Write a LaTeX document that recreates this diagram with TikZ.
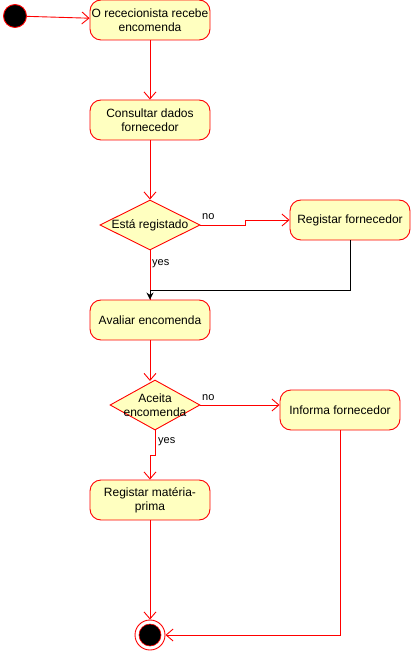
\documentclass[tikz,border=0pt]{standalone}
\usepackage{fontspec}
\setmainfont{Liberation Sans}
\usetikzlibrary{shapes.geometric,arrows.meta,calc}
\definecolor{actfill}{HTML}{FFFFC0}
\definecolor{umlred}{HTML}{FF0000}
\tikzset{
  act/.style={draw=umlred, fill=actfill, rounded corners=11pt, minimum width=120pt, minimum height=40pt, inner sep=0pt, align=center, font=\fontsize{12}{14}\selectfont, line width=0.9pt},
  dec/.style={draw=umlred, fill=actfill, shape=diamond, inner sep=0pt, line width=0.9pt},
  dectext/.style={align=center, font=\fontsize{12}{14}\selectfont, inner sep=0pt},
  rline/.style={draw=umlred, line width=0.9pt, -{Straight Barb[length=7pt,width=12pt]}},
  rplain/.style={draw=umlred, line width=0.9pt},
  bline/.style={draw=black, line width=0.9pt, -{Stealth[length=7pt,width=7pt]}},
  lbl/.style={font=\fontsize{11}{13}\selectfont, inner sep=0pt}
}
\begin{document}
\begin{tikzpicture}[x=1pt,y=-1pt]
\useasboundingbox (0,0) rectangle (411,652);
% start
\node[circle, draw=umlred, fill=black, minimum size=23pt, inner sep=0pt, line width=0.9pt] (start) at (15,16) {};
% activities
\node[act] (n1) at (150,20) {O rececionista recebe\\encomenda};
\node[act] (n2) at (150,120) {Consultar dados\\fornecedor};
\node[dec, minimum width=100pt, minimum height=50pt] (d1) at (150,225) {};
\node[dectext] at (d1) {Está registado};
\node[act] (reg) at (350,220) {Registar fornecedor};
\node[act] (n3) at (150,320) {Avaliar encomenda};
\node[dec, minimum width=90pt, minimum height=50pt] (d2) at (155,405) {};
\node[dectext] at (d2) {Aceita\\encomenda};
\node[act] (inf) at (340,410) {Informa fornecedor};
\node[act] (n4) at (150,500) {Registar matéria-\\prima};
% end
\node[circle, draw=umlred, fill=white, minimum size=30pt, inner sep=0pt, line width=0.9pt] (end) at (150,635) {};
\node[circle, draw=umlred, fill=black, minimum size=22pt, inner sep=0pt, line width=0.6pt] (endin) at (end) {};
\coordinate (m1) at (150,290);
% connectors
\draw[rline] (start) -- (n1);
\draw[rline] (n1) -- (n2);
\draw[rline] (n2) -- (d1);
\draw[rline] (d1.east) -- ++(45,0) |- (reg.west);
\node[lbl, anchor=south west] at (202,220) {no};
\draw[rplain] (d1.south) -- (n3.north);
\node[lbl, anchor=west] at (152,264) {yes};
\draw[bline] (reg.south) |- (m1) -- (n3.north);
\draw[rline] (n3.south) -- (150,381);
\draw[rline] (d2.east) -- (d2.east -| inf.west);
\node[lbl, anchor=south west] at (202,401) {no};
\draw[rline] (d2.south) -- ++(0,25) -| (n4.north);
\node[lbl, anchor=west] at (158,442) {yes};
\draw[rline] (n4.south) -- (end.north);
\draw[rline] (inf.south) |- (end.east);
\end{tikzpicture}
\end{document}
